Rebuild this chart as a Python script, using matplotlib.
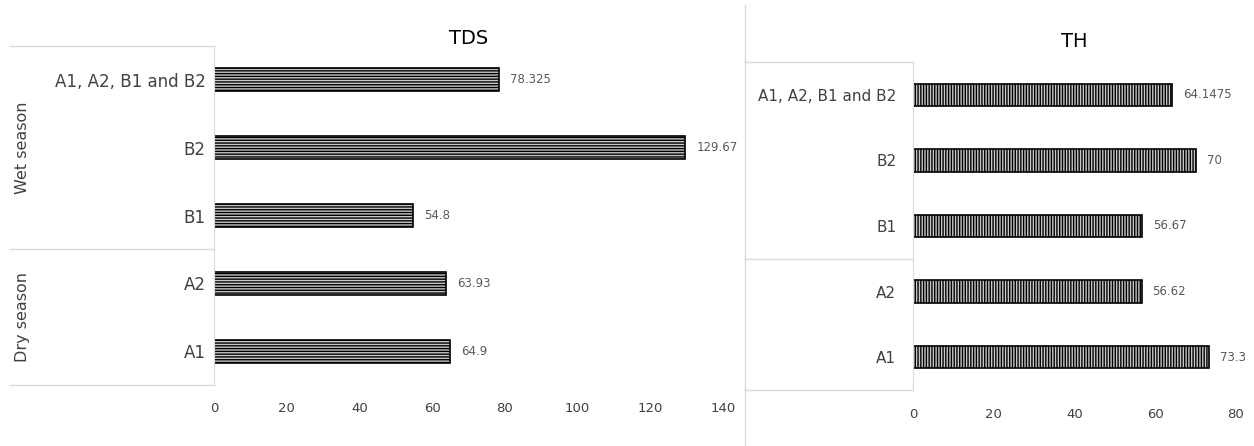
import numpy as np
import matplotlib
matplotlib.use('Agg')
import matplotlib.pyplot as plt
import matplotlib.transforms as mtransforms
from matplotlib.lines import Line2D

plt.rcParams['font.family'] = ['DejaVu Sans']
plt.rcParams['hatch.linewidth'] = 1.0

# sites, bottom to top
sites = ['A1', 'A2', 'B1', 'B2', 'A1, A2, B1 and B2']
tds = [64.9, 63.93, 54.8, 129.67, 78.325]
th = [73.3, 56.62, 56.67, 70, 64.1475]
tds_labels = ['64.9', '63.93', '54.8', '129.67', '78.325']
th_labels = ['73.3', '56.62', '56.67', '70', '64.1475']
seasons = ['Dry season', 'Wet season']

W, H = 1254, 446
GRID = '#d9d9d9'
TXT = '#404040'
VAL = '#595959'

fig = plt.figure(figsize=(W / 100, H / 100), dpi=100)


def px_axes(x0, y0, x1, y1):
    # axes placed by pixel corners (top-left origin)
    return fig.add_axes([x0 / W, 1 - y1 / H, (x1 - x0) / W, (y1 - y0) / H])


def draw_panel(ax, values, labels, title, hatch, xmax, box_left, ypad,
               xpad, cat_size, title_y):
    y = np.arange(len(sites))
    ax.barh(y, values, height=0.34, color='#c8c8c8', edgecolor='black',
            linewidth=1.2, hatch=hatch)
    for yi, v, lab in zip(y, values, labels):
        ax.annotate(lab, (v, yi), xytext=(11, 0), textcoords='offset pixels',
                    va='center', ha='left', fontsize=8.5, color=VAL)
    ax.set_xlim(0, xmax)
    ax.set_ylim(-0.5, len(sites) - 0.5)
    ax.set_xticks(np.arange(0, xmax + 1, 20))
    ax.set_yticks(y)
    ax.set_yticklabels(sites, fontsize=cat_size, color=TXT)
    ax.tick_params(axis='y', length=0, pad=ypad)
    ax.tick_params(axis='x', length=0, pad=xpad, labelsize=9.5, labelcolor=TXT)
    for s in ['top', 'right', 'bottom']:
        ax.spines[s].set_visible(False)
    ax.spines['left'].set_color(GRID)
    ax.text(0.5, title_y, title, transform=ax.transAxes, ha='center',
            va='center', fontsize=14, color='black')

    # season group lines on the category side
    tr = mtransforms.blended_transform_factory(ax.transAxes, ax.transData)
    for yy in [-0.5, 1.5, len(sites) - 0.5]:
        ax.add_line(Line2D([box_left, 0], [yy, yy], transform=tr,
                           color=GRID, lw=1.0, clip_on=False))
    return tr


ax1 = px_axes(214, 46, 723, 385)
tr1 = draw_panel(ax1, tds, tds_labels, 'TDS', '------', 140, -0.40, 6, 12,
                 12, 1.021)
ax1.text(-0.377, 0.5, seasons[0], transform=tr1, rotation=90,
         ha='center', va='center', fontsize=11.5, color=TXT)
ax1.text(-0.377, 3.0, seasons[1], transform=tr1, rotation=90,
         ha='center', va='center', fontsize=11.5, color=TXT)

ax2 = px_axes(913, 62, 1236, 390)
draw_panel(ax2, th, th_labels, 'TH', '||||||', 80, -0.52, 12, 13,
           11, 1.061)

# divider between the two charts
fig.add_artist(Line2D([745 / W, 745 / W], [0, 1 - 5 / H], color=GRID, lw=1.0))

fig.savefig('out.png', dpi=100, facecolor='white')
